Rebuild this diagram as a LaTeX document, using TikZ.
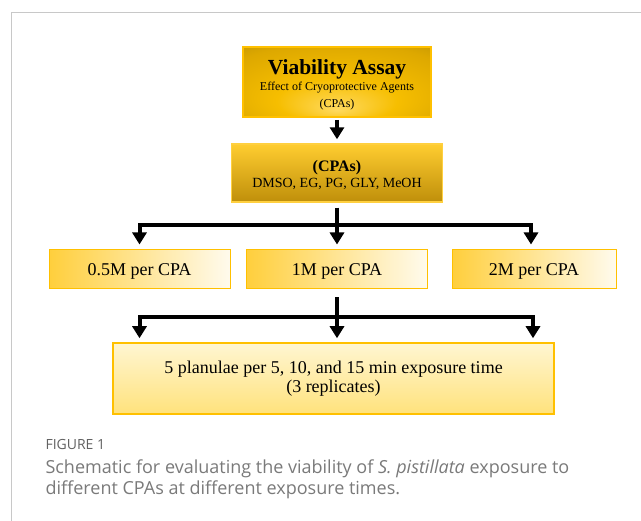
\documentclass[tikz,border=0pt]{standalone}
\usepackage{fontspec}
\setmainfont{Liberation Serif}
\newfontfamily\capfont{Open Sans}
\usetikzlibrary{arrows.meta}
\definecolor{gold}{HTML}{FFC000}
\definecolor{tlight}{HTML}{FFDA60}
\definecolor{tmid}{HTML}{F6BE00}
\definecolor{tmid2}{HTML}{DDA800}
\definecolor{tdark}{HTML}{A88406}
\definecolor{rowgold}{HTML}{FFC000}
\definecolor{rowpale}{HTML}{FFF8E6}
\definecolor{framegray}{HTML}{C8C8C8}
\definecolor{figgray}{HTML}{626262}
\definecolor{capgray}{HTML}{7A7A7A}
\definecolor{cpatop}{HTML}{FFCD30}
\definecolor{cpamid}{HTML}{F2B800}
\definecolor{cpabot}{HTML}{BF8F0A}
\definecolor{cpaline}{HTML}{FFD040}
\definecolor{bottop}{HTML}{FFF6D2}
\definecolor{botbot}{HTML}{FFE27C}
\pgfdeclareradialshading{topshade}{\pgfpoint{0bp}{-20bp}}{color(0bp)=(tlight); color(16bp)=(tmid); color(34bp)=(tmid2); color(50bp)=(tdark)}
\pgfdeclarehorizontalshading{rowshade}{100bp}{color(0bp)=(rowgold); color(8bp)=(rowgold); color(80bp)=(white); color(90bp)=(rowpale); color(100bp)=(rowgold)}
\tikzset{
  topbox/.style={shading=topshade, draw=gold, line width=1.6pt, minimum width=188pt, minimum height=70pt, inner sep=0pt},
  cpabox/.style={top color=cpatop, middle color=cpamid, bottom color=cpabot, draw=cpaline, line width=1.4pt, minimum width=211pt, minimum height=58pt, inner sep=0pt},
  rowbox/.style={shading=rowshade, draw=gold, line width=1pt, minimum height=39pt, inner sep=0pt, text depth=0pt, font=\fontsize{18}{18}\selectfont},
  botbox/.style={top color=bottop, bottom color=botbot, draw=gold, line width=1.5pt, minimum width=441pt, minimum height=71pt, inner sep=0pt, align=center, font=\fontsize{18}{19}\selectfont},
  stem/.style={line width=4pt},
  arr/.style={line width=4pt, -{Triangle[width=14pt,length=12pt]}},
}
\begin{document}
\begin{tikzpicture}[x=1pt,y=-1pt]
\useasboundingbox (0,0) rectangle (641,521);
\fill[white] (0,0) rectangle (641,521);
\draw[framegray, line width=1pt] (11,521) -- (11,12.5) -- (641,12.5);

% top box
\node[topbox] (top) at (337,82) {};
\node[anchor=base, font=\fontsize{21.5}{21.5}\selectfont\bfseries] (t1) at (337,75) {Viability Assay};
\node[anchor=base, font=\fontsize{12}{12}\selectfont] (t2) at (337,91) {Effect of Cryoprotective Agents};
\node[anchor=base, font=\fontsize{12}{12}\selectfont] (t3) at (337,107.5) {(CPAs)};

% CPAs box
\node[cpabox] (cpas) at (337,173) {};
\node[anchor=base, font=\fontsize{16}{16}\selectfont\bfseries] (c1t) at (337,171.5) {(CPAs)};
\node[anchor=base, font=\fontsize{14}{14}\selectfont] (c2t) at (337,188) {DMSO, EG, PG, GLY, MeOH};

% concentration boxes
\node[rowbox, minimum width=181pt] (c05) at (139.5,269.5) {0.5M per CPA};
\node[rowbox, minimum width=181pt] (c1) at (337,269.5) {1M per CPA};
\node[rowbox, minimum width=164pt] (c2) at (534,269.5) {2M per CPA};

% bottom box
\node[botbox] (bot) at (333.5,378.5) {5 planulae per 5, 10, and 15 min exposure time\\(3 replicates)};

% connectors
\draw[arr, shorten <=2pt, shorten >=4pt] (top) -- (cpas);

\coordinate (j1) at (337,225);
\draw[stem, shorten <=5pt] (cpas.south) -- (j1);
\draw[arr, shorten >=5pt] (j1) -| (c05);
\draw[arr, shorten >=5pt] (j1) -- (c1);
\draw[arr, shorten >=5pt] (j1) -| ([xshift=-3pt]c2.north);

\coordinate (j2) at (337,317);
\draw[stem, shorten <=8pt] (c1.south) -- (j2);
\draw[arr, shorten >=4pt] (j2) -| (bot.north -| c05);
\draw[arr, shorten >=4pt] (j2) -- (bot.north -| j2);
\draw[arr, shorten >=4pt] (j2) -| ([xshift=-1pt]bot.north -| c2);

% caption
\node[anchor=base west, font=\capfont\fontsize{14}{14}\selectfont, text=figgray] (fig) at (42,450) {FIGURE 1};
\node[anchor=base west, font=\capfont\fontsize{18}{18}\selectfont, text=capgray] (cap1) at (42,474) {Schematic for evaluating the viability of \textit{S. pistillata} exposure to};
\node[anchor=base west, font=\capfont\fontsize{18}{18}\selectfont, text=capgray] (cap2) at (42,495) {different CPAs at different exposure times.};
\end{tikzpicture}
\end{document}
